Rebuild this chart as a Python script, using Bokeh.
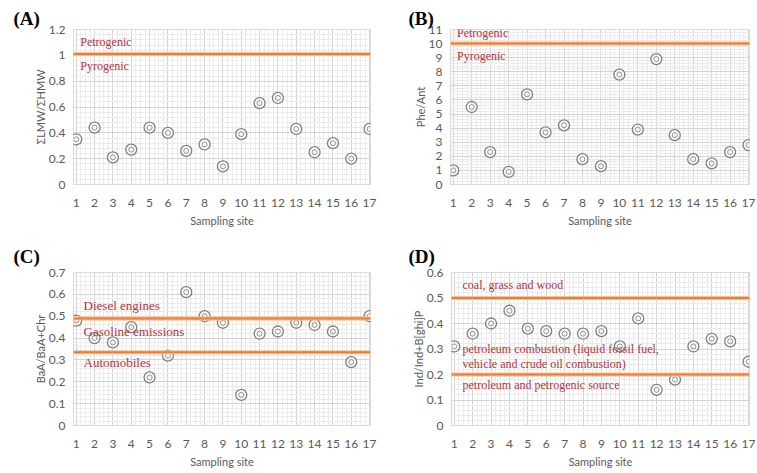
import numpy as np
from bokeh.plotting import figure
from bokeh.layouts import column, row
from bokeh.models import FixedTicker, Label, Span, Range1d
from bokeh.embed import file_html
from bokeh.resources import INLINE

sites = list(range(1, 18))
ratio_a = [0.35, 0.44, 0.21, 0.27, 0.44, 0.40, 0.26, 0.31, 0.14, 0.39, 0.63, 0.67, 0.43, 0.25, 0.32, 0.20, 0.43]
ratio_b = [1.0, 5.5, 2.3, 0.9, 6.4, 3.7, 4.2, 1.8, 1.3, 7.8, 3.9, 8.9, 3.5, 1.8, 1.5, 2.3, 2.8]
ratio_c = [0.48, 0.40, 0.38, 0.45, 0.22, 0.32, 0.61, 0.50, 0.47, 0.14, 0.42, 0.43, 0.47, 0.46, 0.43, 0.29, 0.50]
ratio_d = [0.31, 0.36, 0.40, 0.45, 0.38, 0.37, 0.36, 0.36, 0.37, 0.31, 0.42, 0.14, 0.18, 0.31, 0.34, 0.33, 0.25]

thresh_a = [1.01]
thresh_b = [10.0]
thresh_c = [0.49, 0.335]
thresh_d = [0.5, 0.2]

labels_a = [("Petrogenic", 1.10), ("Pyrogenic", 0.92)]
labels_b = [("Petrogenic", 10.75), ("Pyrogenic", 9.1)]
labels_c = [("Diesel engines", 0.55), ("Gasoline emissions", 0.43), ("Automobiles", 0.29)]
labels_d = [("coal, grass and wood", 0.55), ("petroleum combustion (liquid fossil fuel,", 0.30),
            ("vehicle and crude oil combustion)", 0.24), ("petroleum and petrogenic source", 0.16)]

ORANGE = "#ED7D31"
RED = "#B0343C"
GRAY = "#595959"
TICKFONT = "Lato"


def make(panel, yvals, ymax, ystep, yminor, ylabel, thresholds, labels, text_x,
         width, height, bl, br, bt, bb, title_standoff, title_offset,
         text_size="12px", ytick_fmt=None):
    p = figure(width=width, height=height, output_backend="svg", toolbar_location=None,
               min_border_left=bl, min_border_right=br, min_border_top=bt, min_border_bottom=bb,
               x_range=Range1d(0.85, 17.05), y_range=Range1d(0, ymax),
               title=panel)
    p.title.text_font = "Liberation Serif"
    p.title.text_font_size = "19px"
    p.title.text_font_style = "bold"
    p.title.text_color = "black"
    p.title.align = "left"
    p.title.offset = title_offset
    p.title.standoff = title_standoff
    p.outline_line_color = "#d9d9d9"
    majors = [round(v, 4) for v in np.arange(0, ymax + ystep / 2, ystep)]
    minors = [round(v, 4) for v in np.arange(0, ymax + yminor / 2, yminor)]
    p.yaxis.ticker = FixedTicker(ticks=majors, minor_ticks=minors)
    xminors = [round(v, 3) for v in np.arange(1, 17.01, 0.25)]
    p.xaxis.ticker = FixedTicker(ticks=sites, minor_ticks=xminors)
    if ytick_fmt:
        p.yaxis.major_label_overrides = ytick_fmt
    for ax in (p.xaxis[0], p.yaxis[0]):
        ax.axis_line_color = None
        ax.major_tick_line_color = None
        ax.minor_tick_line_color = None
        ax.major_label_text_font = TICKFONT
        ax.major_label_text_font_size = "12px"
        ax.major_label_text_color = GRAY
        ax.axis_label_text_font = TICKFONT
        ax.axis_label_text_font_size = "11px"
        ax.axis_label_text_font_style = "normal"
        ax.axis_label_text_color = GRAY
    p.xaxis.axis_label = "Sampling site"
    p.xaxis.major_label_standoff = 8
    p.xaxis.axis_label_standoff = 4
    p.yaxis.axis_label = ylabel
    p.yaxis.major_label_standoff = 2
    p.yaxis.axis_label_standoff = -1
    p.xgrid.grid_line_color = "#d4d4d4"
    p.ygrid.grid_line_color = "#d4d4d4"
    p.xgrid.minor_grid_line_color = "#ebebeb"
    p.ygrid.minor_grid_line_color = "#ebebeb"

    for t in thresholds:
        p.add_layout(Span(location=t, dimension="width", line_color="#F6C19C", line_width=4))
        p.add_layout(Span(location=t, dimension="width", line_color=ORANGE, line_width=2))

    p.scatter(sites, yvals, size=11, marker="circle", line_color="#808080", line_width=1.3,
              fill_color="white", fill_alpha=0.6)
    p.scatter(sites, yvals, size=5, marker="circle", line_color="#909090", line_width=1,
              fill_color=None)

    for txt, yv in labels:
        p.add_layout(Label(x=text_x, y=yv, text=txt, text_font="Liberation Serif",
                           text_font_size=text_size, text_color=RED, text_baseline="middle",
                           text_align="left"))
    return p


pA = make("(A)", ratio_a, 1.2, 0.2, 0.04, "ΣLMW/ΣHMW", thresh_a, labels_a, 1.22,
          378, 230, 73, 8, 29, 46, 1, -60,
          ytick_fmt={0: "0", 0.2: "0.2", 0.4: "0.4", 0.6: "0.6", 0.8: "0.8", 1.0: "1", 1.2: "1.2"})
pB = make("(B)", ratio_b, 11, 1, 0.2, "Phe/Ant", thresh_b, labels_b, 1.2,
          378, 230, 72, 7, 29, 44, 1, -42)
pC = make("(C)", ratio_c, 0.7, 0.1, 0.02, "BaA/BaA+Chr", thresh_c, labels_c, 1.4,
          378, 242, 73, 8, 41, 47, 12, -60, text_size="13px")
pD = make("(D)", ratio_d, 0.6, 0.1, 0.02, "Ind/Ind+B[ghi]P", thresh_d, labels_d, 1.45,
          378, 242, 73, 7, 42, 46, 12, -43)

layout = column(row(pA, pB), row(pC, pD))
open("out.html", "w").write(file_html(layout, INLINE))
